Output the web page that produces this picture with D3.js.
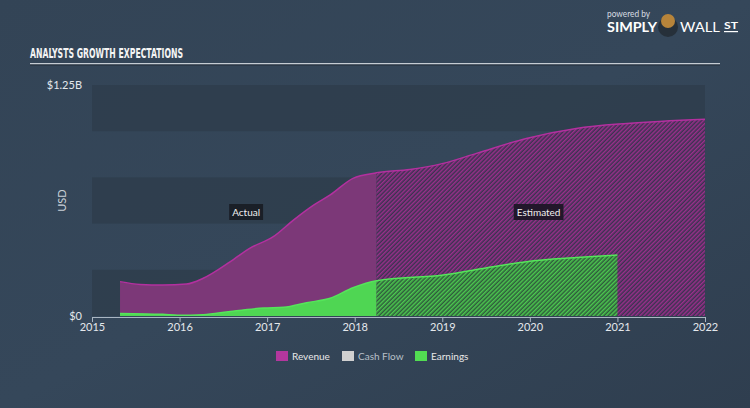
<!DOCTYPE html>
<html><head><meta charset="utf-8">
<script src="https://cdn.jsdelivr.net/npm/d3@7/dist/d3.min.js"></script>
<style>
html,body{margin:0;padding:0;background:#344557;}
svg{display:block;}
</style></head>
<body>
<svg id="c" width="750" height="408"></svg>
<script>
// ---- data (values in $M, dates as decimal years) ----
const years = [2015, 2016, 2017, 2018, 2019, 2020, 2021, 2022];
const yTicks = [0, 1250];
const yTickLabels = ["$0", "$1.25B"];
const splitDate = 2018.25;
const revenueDates = [2015.32, 2015.55, 2015.81, 2016.08, 2016.27, 2016.58, 2016.80, 2017.07, 2017.30, 2017.53, 2017.72, 2017.98, 2018.25, 2018.63, 2019.01, 2019.39, 2019.96, 2020.53, 2021.11, 2022.0];
const revenue = [186, 171, 168, 173, 204, 294, 366, 429, 519, 600, 655, 745, 775, 793, 826, 880, 961, 1015, 1042, 1065];
const earningsDates = [2015.32, 2015.81, 2015.98, 2016.27, 2016.58, 2016.96, 2017.19, 2017.45, 2017.72, 2017.98, 2018.25, 2019.01, 2019.58, 2019.96, 2020.53, 2021.0];
const earnings = [14, 9, 4, 7, 25, 43, 47, 72, 96, 153, 191, 222, 267, 294, 316, 330];
const legendItems = ["Revenue", "Cash Flow", "Earnings"];

const svg = d3.select("#c");
const W = 750, H = 408;
const defs = svg.append("defs");

// background
const bg = defs.append("linearGradient").attr("id","bg").attr("x1","0").attr("y1","0").attr("x2","1").attr("y2","1");
bg.append("stop").attr("offset","0").attr("stop-color","#334456");
bg.append("stop").attr("offset","0.5").attr("stop-color","#35475a");
bg.append("stop").attr("offset","1").attr("stop-color","#2f3e4f");
svg.append("rect").attr("width",W).attr("height",H).attr("fill","url(#bg)");

const x = d3.scaleLinear().domain([2015, 2022]).range([92, 705]);
const y = d3.scaleLinear().domain([0, 1250]).range([316, 85]);

// bands
const bandStep = 250;
for (let i = 0; i < 5; i++) {
  if (i % 2 === 0) {
    svg.append("rect")
      .attr("x", x(2015)).attr("width", x(2022) - x(2015))
      .attr("y", y((i + 1) * bandStep)).attr("height", y(i * bandStep) - y((i + 1) * bandStep))
      .attr("fill", "#2e3c4b").attr("opacity", 0.75);
  }
}

// patterns
function hatch(id, c1, c2) {
  const p = defs.append("pattern").attr("id", id).attr("patternUnits","userSpaceOnUse")
    .attr("width", 3).attr("height", 3).attr("patternTransform","rotate(45)");
  p.append("rect").attr("width",3).attr("height",3).attr("fill",c2);
  p.append("rect").attr("width",1.5).attr("height",3).attr("fill",c1);
}
hatch("hRev", "#9a2f8b", "#3a3350");
hatch("hEarn", "#4cc94f", "#2f5a3c");

// clips
defs.append("clipPath").attr("id","clipA").append("rect")
  .attr("x", 0).attr("y", 0).attr("width", x(splitDate)).attr("height", H);
defs.append("clipPath").attr("id","clipE").append("rect")
  .attr("x", x(splitDate)).attr("y", 0).attr("width", W - x(splitDate)).attr("height", H);

const revData = revenueDates.map((d, i) => ({d, v: revenue[i]}));
const earnData = earningsDates.map((d, i) => ({d, v: earnings[i]}));
const area = d3.area().x(p => x(p.d)).y0(y(0)).y1(p => y(p.v)).curve(d3.curveMonotoneX);
const line = d3.line().x(p => x(p.d)).y(p => y(p.v)).curve(d3.curveMonotoneX);

// revenue
svg.append("path").datum(revData).attr("d", area).attr("fill", "#7c3878").attr("clip-path","url(#clipA)");
svg.append("path").datum(revData).attr("d", area).attr("fill", "url(#hRev)").attr("clip-path","url(#clipE)");
svg.append("path").datum(revData).attr("d", line).attr("fill","none").attr("stroke","#b3309f").attr("stroke-width",1.5);

// earnings
svg.append("path").datum(earnData).attr("d", area).attr("fill", "#4fd653").attr("clip-path","url(#clipA)");
svg.append("path").datum(earnData).attr("d", area).attr("fill", "url(#hEarn)").attr("clip-path","url(#clipE)");
svg.append("path").datum(earnData).attr("d", line).attr("fill","none").attr("stroke","#55e55a").attr("stroke-width",1.5);

// x axis
const xAxis = svg.append("g").attr("transform", `translate(0,${y(0) + 1})`)
  .call(d3.axisBottom(x).tickValues(years).tickFormat(d3.format("d")).tickSize(5).tickPadding(1));
xAxis.select(".domain").attr("stroke","#aab6c2");
xAxis.selectAll(".tick line").attr("stroke","#aab6c2");
xAxis.selectAll("text").attr("fill","#e4e8ec").attr("font-family","Lato, 'Open Sans', sans-serif").attr("font-size",11);

// y axis
const yAxis = svg.append("g").attr("transform", `translate(82,0)`)
  .call(d3.axisLeft(y).tickValues(yTicks).tickFormat((d, i) => yTickLabels[i]).tickSize(0).tickPadding(0));
yAxis.select(".domain").remove();
yAxis.selectAll("text").attr("fill","#e4e8ec").attr("font-family","Lato, 'Open Sans', sans-serif").attr("font-size",11);

svg.append("text").attr("transform", `translate(66,${(y(0)+y(1250))/2}) rotate(-90)`)
  .attr("text-anchor","middle").attr("fill","#c9d0d7").attr("font-family","Lato, 'Open Sans', sans-serif")
  .attr("font-size",11).text("USD");

// labels Actual / Estimated
function tag(cx, cy, txt, fill) {
  const g = svg.append("g");
  const t = g.append("text").attr("x", cx).attr("y", cy + 4).attr("text-anchor","middle")
    .attr("fill","#f0f0f0").attr("font-family","Lato, 'Open Sans', sans-serif").attr("font-size",10).text(txt);
  const bb = t.node().getBBox();
  g.insert("rect","text").attr("x", bb.x - 3).attr("y", cy - 8).attr("width", bb.width + 6).attr("height", 16).attr("fill", fill);
}
tag(x(2016.76), 212, "Actual", "#1a1f27");
tag(x(2020.1), 212, "Estimated", "#22172a");

// title
svg.append("text").attr("x", 30).attr("y", 58).attr("fill","#f4f4f4")
  .attr("font-family","'Liberation Sans Narrow','DejaVu Sans Condensed',sans-serif").attr("font-weight","bold")
  .attr("font-size",14).attr("textLength",153).attr("lengthAdjust","spacingAndGlyphs").text("ANALYSTS GROWTH EXPECTATIONS");
svg.append("rect").attr("x",30).attr("y",63).attr("width",690).attr("height",1.5).attr("fill","#c5ccd3");
svg.append("rect").attr("x",30).attr("y",64.5).attr("width",690).attr("height",1).attr("fill","#222d38");

// logo
svg.append("text").attr("x",607).attr("y",17).attr("fill","#d8dde2").attr("font-family","Lato, sans-serif").attr("font-size",9)
  .attr("textLength",43).attr("lengthAdjust","spacingAndGlyphs").text("powered by");
svg.append("text").attr("x",607).attr("y",32).attr("fill","#ffffff").attr("font-family","Lato, sans-serif").attr("font-weight","bold").attr("font-size",14)
  .attr("textLength",50).attr("lengthAdjust","spacingAndGlyphs").text("SIMPLY");
svg.append("circle").attr("cx",668).attr("cy",27).attr("r",10).attr("fill","#26303a");
svg.append("circle").attr("cx",668).attr("cy",21).attr("r",7).attr("fill","#b7843a");
svg.append("text").attr("x",680).attr("y",32).attr("fill","#ffffff").attr("font-family","Lato, sans-serif").attr("font-size",14)
  .attr("textLength",40).attr("lengthAdjust","spacingAndGlyphs").text("WALL");
svg.append("text").attr("x",724).attr("y",29).attr("fill","#ffffff").attr("font-family","Lato, sans-serif").attr("font-weight","bold").attr("font-size",10)
  .attr("textLength",14).attr("lengthAdjust","spacingAndGlyphs").text("ST");
svg.append("rect").attr("x",724).attr("y",31).attr("width",14).attr("height",1.2).attr("fill","#ffffff");

// legend
const legColors = ["#b3379e", "#d0d0d0", "#52dd52"];
const legX = [276, 342, 415];
const legTextColors = ["#e8e8e8", "#b8c0c8", "#e8e8e8"];
legendItems.forEach((name, i) => {
  svg.append("rect").attr("x", legX[i]).attr("y", 351).attr("width", 12).attr("height", 10).attr("fill", legColors[i]);
  svg.append("text").attr("x", legX[i] + 16).attr("y", 360).attr("fill", legTextColors[i])
    .attr("font-family","Lato, 'Open Sans', sans-serif").attr("font-size",10).text(name);
});
</script>
</body></html>
